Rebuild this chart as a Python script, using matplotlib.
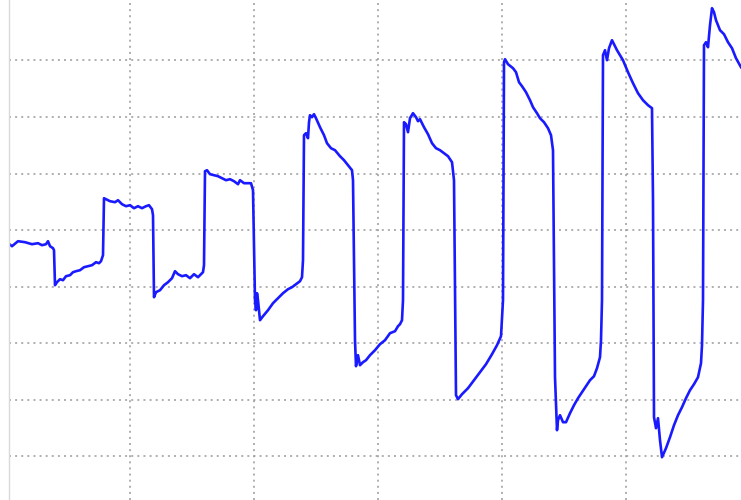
import numpy as np
import matplotlib
matplotlib.use("Agg")
import matplotlib.pyplot as plt

# Sampled waveform: time (samples) and amplitude (raw counts)
t = [2, 6, 12, 19, 26, 32, 36, 40, 42, 44, 47, 48, 49, 51, 54, 57, 60, 64, 67, 70,
     74, 78, 82, 86, 90, 93, 95, 97, 98, 100, 104, 109, 112, 116, 120, 124, 128, 132,
     136, 140, 143, 146, 147, 148, 150, 154, 158, 162, 166, 169, 172, 176, 180, 184,
     188, 192, 195, 197, 198, 199, 201, 204, 208, 212, 216, 220, 224, 228, 232, 234,
     238, 242, 245, 247, 249, 250, 251, 252, 254, 257, 262, 267, 272, 277, 282, 286,
     290, 294, 296, 297, 298, 300, 302, 303, 304, 306, 308, 310, 314, 318, 321, 325,
     329, 334, 338, 342, 346, 347, 349, 350, 352, 354, 357, 360, 364, 369, 374, 379,
     384, 389, 392, 394, 396, 397, 398, 400, 402, 404, 407, 410, 412, 414, 418, 422,
     426, 430, 434, 438, 442, 446, 448, 450, 452, 456, 462, 468, 474, 480, 486, 491,
     495, 497, 498, 499, 502, 507, 510, 513, 516, 520, 524, 527, 531, 534, 538, 542,
     545, 547, 549, 551, 552, 554, 557, 560, 564, 568, 572, 576, 580, 584, 588, 591,
     594, 595, 596, 597, 599, 601, 603, 606, 608, 611, 614, 617, 622, 627, 632, 637,
     642, 646, 647, 648, 650, 652, 654, 656, 660, 664, 668, 672, 676, 680, 684, 688,
     692, 695, 696, 697, 698, 700, 702, 704, 706, 708, 710, 714, 718, 722, 726, 730,
     735]
amplitude = [-13, -16, -11, -12, -14, -13, -15, -14, -11, -16, -18, -20, -55, -52, -49,
             -50, -46, -45, -42, -41, -40, -37, -36, -35, -32, -33, -31, -25, 32, 31,
             29, 28, 30, 26, 24, 25, 22, 24, 22, 24, 25, 21, 15, -67, -62, -60, -55,
             -52, -48, -41, -44, -46, -45, -48, -44, -47, -44, -42, -35, 59, 60, 56,
             55, 54, 52, 50, 51, 49, 46, 50, 47, 47, 47, 40, -70, -80, -63, -70, -90,
             -86, -80, -73, -68, -63, -59, -57, -54, -51, -47, -30, 95, 97, 92, 108,
             115, 113, 116, 112, 103, 95, 87, 82, 80, 74, 70, 65, 60, 50, -110, -136,
             -125, -135, -132, -130, -125, -120, -114, -110, -103, -101, -96, -94, -90,
             -70, 108, 106, 98, 112, 117, 113, 109, 111, 103, 96, 87, 82, 80, 77, 74,
             68, 50, -165, -169, -164, -158, -150, -142, -134, -124, -115, -106, -70,
             168, 171, 166, 162, 158, 148, 144, 138, 130, 123, 117, 112, 108, 102, 95,
             80, -147, -200, -190, -185, -192, -192, -183, -175, -168, -162, -156,
             -150, -146, -138, -127, -110, -70, 175, 180, 170, 182, 190, 186, 180, 175,
             170, 158, 147, 137, 130, 125, 122, 30, -187, -198, -188, -210, -227, -218,
             -207, -195, -185, -177, -168, -160, -154, -147, -133, -115, -70, 185, 188,
             183, 205, 222, 218, 210, 200, 196, 188, 182, 172, 163]

# Grid divisions
time_div = 124
amp_div = 56.57
time_grid = [1, 2, 3, 4, 5]
amp_grid = [-4, -3, -2, -1, 0, 1, 2, 3]

fig = plt.figure(figsize=(7.41, 5.00), dpi=100)
ax = fig.add_axes([8.5 / 741, 0, 1 - 8.5 / 741, 1])

ax.plot(t, amplitude, color="#1a1aff", linewidth=1.9, solid_joinstyle="round")

ax.set_xlim(2.5, 735)
ax.set_ylim(-269.8, 230.2)
ax.set_xticks([k * time_div for k in time_grid])
ax.set_yticks([k * amp_div for k in amp_grid])
ax.tick_params(length=0, labelbottom=False, labelleft=False)
ax.grid(True, color="#9a9a9a", linestyle=(0, (1.3, 2.7)), linewidth=1.1)

for side in ("top", "right", "bottom"):
    ax.spines[side].set_visible(False)
ax.spines["left"].set_color("#d9d9d9")
ax.spines["left"].set_linewidth(1.0)

fig.savefig("out.png", dpi=100)
